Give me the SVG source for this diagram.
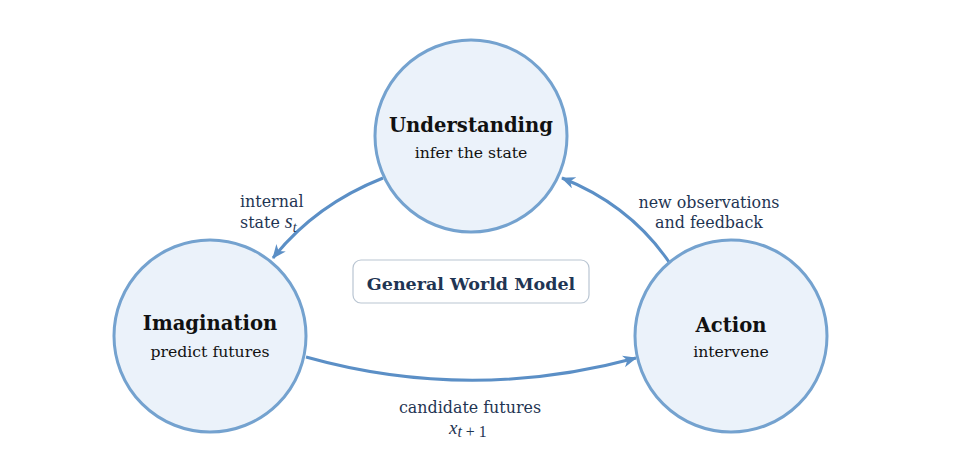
<svg xmlns="http://www.w3.org/2000/svg" width="974" height="460" viewBox="0 0 974 460">
<style>
.node{fill:#ebf2fa;stroke:#74a2cf;stroke-width:3}
.title{font-family:"DejaVu Serif","Liberation Serif",serif;font-weight:bold;font-size:19.6px;fill:#111;text-anchor:middle}
.sub{font-family:"DejaVu Serif","Liberation Serif",serif;font-size:15.7px;fill:#111;text-anchor:middle}
.lbl{font-family:"DejaVu Serif","Liberation Serif",serif;font-size:15.9px;fill:#1f3553}
.math{font-family:"Liberation Serif",serif;font-style:italic}
.edge{fill:none;stroke:#5b8fc6;stroke-width:3}
</style>
<defs>
<marker id="ah" markerUnits="userSpaceOnUse" markerWidth="16" markerHeight="14" refX="13" refY="6" orient="auto">
<path d="M0,0 L14,6 L0,12 L4,6 z" fill="#5b8fc6"/>
</marker>
</defs>
<rect width="974" height="460" fill="#fff"/>
<g id="connectors">
<path class="edge" d="M383,178 Q315,205 273,258" marker-end="url(#ah)"/>
<path class="edge" d="M306,357 Q470,403 636,358" marker-end="url(#ah)"/>
<path class="edge" d="M669,262 Q630,205 562,178" marker-end="url(#ah)"/>
</g>
<g id="understanding">
<circle class="node" cx="471" cy="136" r="96"/>
<text class="title" x="471" y="132">Understanding</text>
<text class="sub" x="471" y="158">infer the state</text>
</g>
<g id="imagination">
<circle class="node" cx="210" cy="336" r="96"/>
<text class="title" x="210" y="330">Imagination</text>
<text class="sub" x="210" y="357">predict futures</text>
</g>
<g id="action">
<circle class="node" cx="731" cy="336" r="96"/>
<text class="title" x="731" y="332">Action</text>
<text class="sub" x="731" y="357">intervene</text>
</g>
<g id="general-world-model">
<rect x="353" y="260" width="236" height="43" rx="8" fill="#fff" stroke="#b9c5d2" stroke-width="1.2"/>
<text x="471" y="290" style="font-family:'DejaVu Serif','Liberation Serif',serif;font-weight:bold;font-size:17.5px;fill:#1f3553;text-anchor:middle">General World Model</text>
</g>
<g id="labels">
<text class="lbl" x="240" y="207">internal</text>
<text class="lbl" x="240" y="228">state <tspan class="math" font-size="20">s</tspan><tspan class="math" font-size="14" dy="4">t</tspan></text>
<text class="lbl" x="709" y="208" text-anchor="middle">new observations</text>
<text class="lbl" x="709" y="228" text-anchor="middle">and feedback</text>
<text class="lbl" x="470" y="413" text-anchor="middle">candidate futures</text>
<text class="lbl" x="449" y="434" font-size="14"><tspan class="math" font-size="19">x</tspan><tspan class="math" dy="3">t</tspan><tspan font-family="Liberation Serif"> + 1</tspan></text>
</g>
</svg>
